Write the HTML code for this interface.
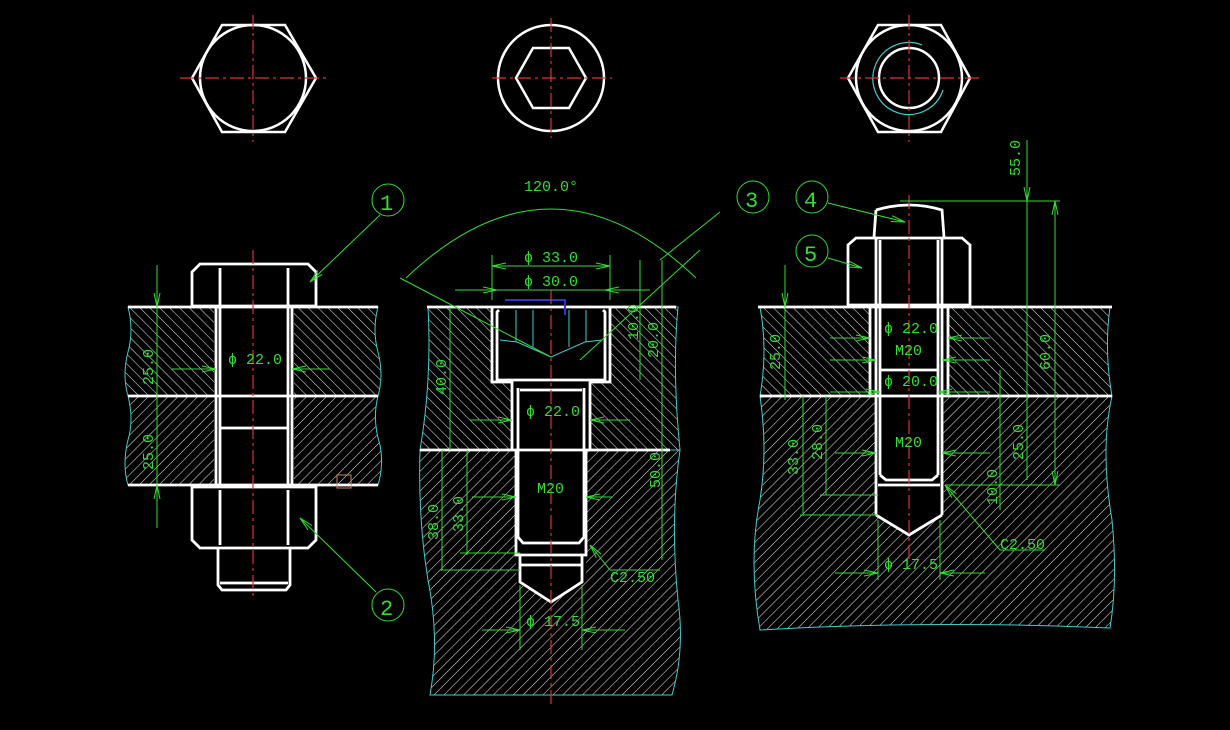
<!DOCTYPE html>
<html><head><meta charset="utf-8"><style>
html,body{margin:0;padding:0;background:#000;}
svg{display:block}
text{font-family:"Liberation Mono","Liberation Sans",monospace;fill:#3d3;font-size:15px}
</style></head><body>
<svg width="1230" height="730" viewBox="0 0 1230 730" xmlns="http://www.w3.org/2000/svg">
<defs>
<pattern id="hf" patternUnits="userSpaceOnUse" width="7" height="7" patternTransform="rotate(45)"><line x1="0" y1="0" x2="0" y2="7" stroke="#ddd" stroke-width="1.1"/></pattern>
<pattern id="hb" patternUnits="userSpaceOnUse" width="7" height="7" patternTransform="rotate(-45)"><line x1="0" y1="0" x2="0" y2="7" stroke="#ddd" stroke-width="1.1"/></pattern>
<marker id="ar" markerWidth="14" markerHeight="8" refX="14" refY="4" orient="auto" markerUnits="userSpaceOnUse"><path d="M0,1 L14,4 L0,7" fill="none" stroke="#3d3" stroke-width="1"/></marker>
</defs>
<rect width="1230" height="730" fill="#000"/>

<!-- TOP VIEWS -->
<g stroke="#fff" stroke-width="2.5" fill="none">
<polygon points="192,78 222,25 285,25 316,78 285,132 222,132"/>
<circle cx="253" cy="78" r="53"/>
<circle cx="551" cy="78" r="53"/>
<polygon points="516,78 533,48 569,48 586,78 569,108 533,108"/>
<polygon points="848,78 878,25 941,25 970,78 941,132 878,132"/>
<circle cx="909" cy="78" r="53"/>
<circle cx="909" cy="78" r="30"/>
</g>
<path d="M922,45 A36,36 0 1 0 943,90" stroke="#4cc" stroke-width="1.2" fill="none"/>
<g stroke="#d33" stroke-width="1.2" stroke-dasharray="14,4,3,4">
<line x1="180" y1="78" x2="326" y2="78"/><line x1="253" y1="15" x2="253" y2="142"/>
<line x1="492" y1="78" x2="612" y2="78"/><line x1="551" y1="18" x2="551" y2="138"/>
<line x1="840" y1="78" x2="980" y2="78"/><line x1="909" y1="15" x2="909" y2="142"/>
</g>

<!-- LEFT ASSEMBLY -->
<path d="M128,307 L378,307 Q372,330 378,352 Q384,375 378,396 L128,396 Q122,375 128,352 Q134,330 128,307Z" fill="url(#hb)" stroke="#4cc" stroke-width="1"/>
<path d="M128,396 L378,396 Q372,420 380,445 Q384,465 378,485 L128,485 Q122,465 128,440 Q134,420 128,396Z" fill="url(#hf)" stroke="#4cc" stroke-width="1"/>
<rect x="214" y="307" width="80" height="178" fill="#000"/>
<g stroke="#fff" stroke-width="2.8" fill="none">
<line x1="128" y1="307" x2="378" y2="307"/><line x1="128" y1="396" x2="378" y2="396"/><line x1="128" y1="485" x2="378" y2="485"/>
<line x1="216" y1="307" x2="216" y2="485"/><line x1="292" y1="307" x2="292" y2="485"/>
<line x1="220" y1="307" x2="220" y2="487"/><line x1="288" y1="307" x2="288" y2="487"/>
<line x1="220" y1="428" x2="288" y2="428"/>
<path d="M192,306 L192,272 L200,264 L308,264 L316,272 L316,306 Z"/>
<line x1="220" y1="268" x2="220" y2="306"/><line x1="288" y1="268" x2="288" y2="306"/>
<path d="M192,487 L192,540 L200,548 L308,548 L316,540 L316,487 Z"/>
<line x1="220" y1="490" x2="220" y2="545"/><line x1="288" y1="490" x2="288" y2="545"/>
<path d="M218,548 L218,585 L222,590 L286,590 L290,585 L290,548"/>
<line x1="220" y1="583" x2="288" y2="583"/>
</g>
<rect x="337" y="475" width="14" height="13" stroke="#c86" fill="none"/>
<line x1="253" y1="250" x2="253" y2="600" stroke="#d33" stroke-width="1.2" stroke-dasharray="14,4,3,4"/>
<g stroke="#3d3" stroke-width="1" fill="none">
<line x1="157" y1="265" x2="157" y2="307" marker-end="url(#ar)"/>
<line x1="157" y1="528" x2="157" y2="485" marker-end="url(#ar)"/>
<line x1="157" y1="307" x2="157" y2="485"/>
<line x1="172" y1="369" x2="216" y2="369" marker-end="url(#ar)"/>
<line x1="330" y1="369" x2="292" y2="369" marker-end="url(#ar)"/>
<line x1="380" y1="215" x2="310" y2="282" marker-end="url(#ar)"/>
<line x1="376" y1="592" x2="300" y2="518" marker-end="url(#ar)"/>
<circle cx="388" cy="200" r="16"/><circle cx="388" cy="605" r="16"/>
</g>
<text x="228" y="364">ϕ 22.0</text>
<text transform="translate(153,385) rotate(-90)">25.0</text>
<text transform="translate(153,470) rotate(-90)">25.0</text>
<text x="380" y="210" style="font-size:22px">1</text>
<text x="380" y="615" style="font-size:22px">2</text>

<!-- MIDDLE -->
<path d="M428,307 L678,307 Q672,370 680,450 L420,450 Q432,380 428,307Z" fill="url(#hb)" stroke="#4cc" stroke-width="1"/>
<path d="M420,450 L680,450 Q670,520 678,600 Q685,650 672,695 L430,695 Q440,640 428,580 Q418,520 420,450Z" fill="url(#hf)" stroke="#4cc" stroke-width="1"/>
<rect x="492" y="307" width="118" height="75" fill="#000"/>
<rect x="512" y="382" width="78" height="68" fill="#000"/>
<path d="M516,450 L586,450 L586,582 L551,602 L516,582Z" fill="#000"/>
<g stroke="#fff" stroke-width="2.8" fill="none">
<line x1="427" y1="307" x2="676" y2="307"/><line x1="420" y1="450" x2="670" y2="450"/>
<path d="M492,307 L492,382 L512,382 L512,450"/><path d="M610,307 L610,382 L590,382 L590,450"/>
<path d="M499,310 L497,312 L497,380 L605,380 L605,312 L603,310"/>
<path d="M516,450 L516,555 L520,555 L520,582 L551,602 L582,582 L582,555 L586,555 L586,450"/>
<path d="M518,388 L518,537 L523,543 L579,543 L584,537 L584,388"/>
<line x1="520" y1="390" x2="582" y2="390"/>
<line x1="520" y1="555" x2="582" y2="555"/><line x1="520" y1="565" x2="582" y2="565"/>
</g>
<g stroke="#4cc" stroke-width="1" fill="none">
<path d="M500,340 L517,342 L551,357 L585,342 L602,340"/>
<line x1="516" y1="310" x2="516" y2="342"/><line x1="533" y1="310" x2="533" y2="347"/><line x1="569" y1="310" x2="569" y2="347"/><line x1="586" y1="310" x2="586" y2="342"/>
</g>
<path d="M505,300 L565,300 L565,315" stroke="#33c" stroke-width="2" fill="none"/>
<line x1="551" y1="290" x2="551" y2="705" stroke="#d33" stroke-width="1.2" stroke-dasharray="14,4,3,4"/>
<g stroke="#3d3" stroke-width="1" fill="none">
<path d="M406,278 Q551,140 696,278"/>
<line x1="400" y1="278" x2="551" y2="357"/><line x1="700" y1="250" x2="580" y2="360"/>
<line x1="492" y1="255" x2="492" y2="300"/><line x1="610" y1="255" x2="610" y2="300"/>
<line x1="551" y1="266" x2="492" y2="266" marker-end="url(#ar)"/><line x1="551" y1="266" x2="610" y2="266" marker-end="url(#ar)"/>
<line x1="455" y1="290" x2="497" y2="290" marker-end="url(#ar)"/><line x1="650" y1="290" x2="605" y2="290" marker-end="url(#ar)"/>
<line x1="497" y1="290" x2="605" y2="290"/>
<line x1="640" y1="260" x2="640" y2="380"/><line x1="662" y1="260" x2="662" y2="560"/>
<line x1="450" y1="307" x2="450" y2="450"/><line x1="442" y1="450" x2="442" y2="570"/><line x1="467" y1="450" x2="467" y2="555"/>
<line x1="470" y1="420" x2="512" y2="420" marker-end="url(#ar)"/><line x1="630" y1="420" x2="590" y2="420" marker-end="url(#ar)"/>
<line x1="472" y1="497" x2="516" y2="497" marker-end="url(#ar)"/><line x1="612" y1="497" x2="586" y2="497" marker-end="url(#ar)"/>
<line x1="482" y1="630" x2="520" y2="630" marker-end="url(#ar)"/><line x1="625" y1="630" x2="582" y2="630" marker-end="url(#ar)"/>
<line x1="440" y1="570" x2="520" y2="570"/><line x1="460" y1="553" x2="520" y2="553"/>
<line x1="610" y1="570" x2="590" y2="545" marker-end="url(#ar)"/><line x1="610" y1="570" x2="660" y2="570"/>
<line x1="520" y1="585" x2="520" y2="650"/><line x1="582" y1="585" x2="582" y2="650"/>
<line x1="720" y1="212" x2="660" y2="260"/>
<circle cx="753" cy="197" r="16"/>
</g>
<text x="524" y="191">120.0°</text>
<text x="524" y="262">ϕ 33.0</text>
<text x="524" y="286">ϕ 30.0</text>
<text x="526" y="416">ϕ 22.0</text>
<text x="537" y="493">M20</text>
<text x="526" y="626">ϕ 17.5</text>
<text x="610" y="582">C2.50</text>
<text transform="translate(446,395) rotate(-90)">40.0</text>
<text transform="translate(438,540) rotate(-90)">38.0</text>
<text transform="translate(463,532) rotate(-90)">33.0</text>
<text transform="translate(658,358) rotate(-90)">20.0</text>
<text transform="translate(638,340) rotate(-90)">10.0</text>
<text transform="translate(660,488) rotate(-90)">50.0</text>
<text x="745" y="207" style="font-size:22px">3</text>

<!-- RIGHT -->
<path d="M760,307 L1110,307 Q1104,350 1112,396 L760,396 Q768,350 760,307Z" fill="url(#hb)" stroke="#4cc" stroke-width="1"/>
<path d="M760,396 L1112,396 Q1100,450 1112,520 Q1118,580 1110,628 Q930,620 760,630 Q748,560 760,500 Q768,450 760,396Z" fill="url(#hf)" stroke="#4cc" stroke-width="1"/>
<rect x="870" y="307" width="78" height="89" fill="#000"/>
<path d="M876,396 L942,396 L942,515 L909,535 L876,515Z" fill="#000"/>
<g stroke="#fff" stroke-width="2.8" fill="none">
<line x1="758" y1="307" x2="1112" y2="307"/><line x1="760" y1="396" x2="1112" y2="396"/>
<line x1="870" y1="307" x2="870" y2="396"/><line x1="948" y1="307" x2="948" y2="396"/>
<path d="M876,210 Q909,200 942,210 L944,237 M874,237 L876,210"/>
<line x1="876" y1="237" x2="876" y2="515"/><line x1="942" y1="237" x2="942" y2="515"/>
<line x1="880" y1="305" x2="880" y2="475"/><line x1="938" y1="305" x2="938" y2="475"/>
<path d="M880,475 L886,480 L932,480 L938,475"/>
<line x1="878" y1="485" x2="940" y2="485"/>
<path d="M876,515 L909,535 L942,515"/>
<line x1="880" y1="370" x2="938" y2="370"/>
<path d="M848,305 L848,245 L856,238 L962,238 L970,245 L970,305 Z"/>
<line x1="880" y1="240" x2="880" y2="305"/><line x1="938" y1="240" x2="938" y2="305"/>
</g>
<line x1="909" y1="195" x2="909" y2="560" stroke="#d33" stroke-width="1.2" stroke-dasharray="14,4,3,4"/>
<g stroke="#3d3" stroke-width="1" fill="none">
<line x1="785" y1="265" x2="785" y2="307" marker-end="url(#ar)"/><line x1="785" y1="307" x2="785" y2="400"/>
<line x1="1027" y1="140" x2="1027" y2="201" marker-end="url(#ar)"/><line x1="1027" y1="201" x2="1027" y2="480"/>
<line x1="1055" y1="340" x2="1055" y2="201" marker-end="url(#ar)"/><line x1="1055" y1="340" x2="1055" y2="485" marker-end="url(#ar)"/>
<line x1="900" y1="201" x2="1060" y2="201"/><line x1="945" y1="485" x2="1060" y2="485"/>
<line x1="1000" y1="370" x2="1000" y2="510"/>
<line x1="803" y1="396" x2="803" y2="515"/><line x1="826" y1="396" x2="826" y2="495"/>
<line x1="800" y1="515" x2="878" y2="515"/><line x1="820" y1="495" x2="878" y2="495"/>
<line x1="830" y1="338" x2="870" y2="338" marker-end="url(#ar)"/><line x1="990" y1="338" x2="948" y2="338" marker-end="url(#ar)"/>
<line x1="830" y1="360" x2="876" y2="360" marker-end="url(#ar)"/><line x1="990" y1="360" x2="942" y2="360" marker-end="url(#ar)"/>
<line x1="830" y1="392" x2="880" y2="392" marker-end="url(#ar)"/><line x1="990" y1="392" x2="938" y2="392" marker-end="url(#ar)"/>
<line x1="835" y1="453" x2="876" y2="453" marker-end="url(#ar)"/><line x1="990" y1="453" x2="942" y2="453" marker-end="url(#ar)"/>
<line x1="835" y1="573" x2="878" y2="573" marker-end="url(#ar)"/><line x1="985" y1="573" x2="940" y2="573" marker-end="url(#ar)"/>
<line x1="878" y1="520" x2="878" y2="580"/><line x1="940" y1="520" x2="940" y2="580"/>
<line x1="1000" y1="550" x2="945" y2="485" marker-end="url(#ar)"/><line x1="1000" y1="550" x2="1045" y2="550"/>
<line x1="828" y1="203" x2="905" y2="222" marker-end="url(#ar)"/><line x1="828" y1="258" x2="862" y2="268" marker-end="url(#ar)"/>
<circle cx="812" cy="197" r="16"/><circle cx="812" cy="251" r="16"/>
</g>
<text x="884" y="333">ϕ 22.0</text>
<text x="895" y="355">M20</text>
<text x="884" y="386">ϕ 20.0</text>
<text x="895" y="447">M20</text>
<text x="884" y="569">ϕ 17.5</text>
<text x="1000" y="549">C2.50</text>
<text transform="translate(1020,176) rotate(-90)">55.0</text>
<text transform="translate(1050,370) rotate(-90)">60.0</text>
<text transform="translate(1023,460) rotate(-90)">25.0</text>
<text transform="translate(997,505) rotate(-90)">10.0</text>
<text transform="translate(780,370) rotate(-90)">25.0</text>
<text transform="translate(798,475) rotate(-90)">33.0</text>
<text transform="translate(822,460) rotate(-90)">28.0</text>
<text x="804" y="207" style="font-size:22px">4</text>
<text x="804" y="261" style="font-size:22px">5</text>
</svg>
</body></html>
